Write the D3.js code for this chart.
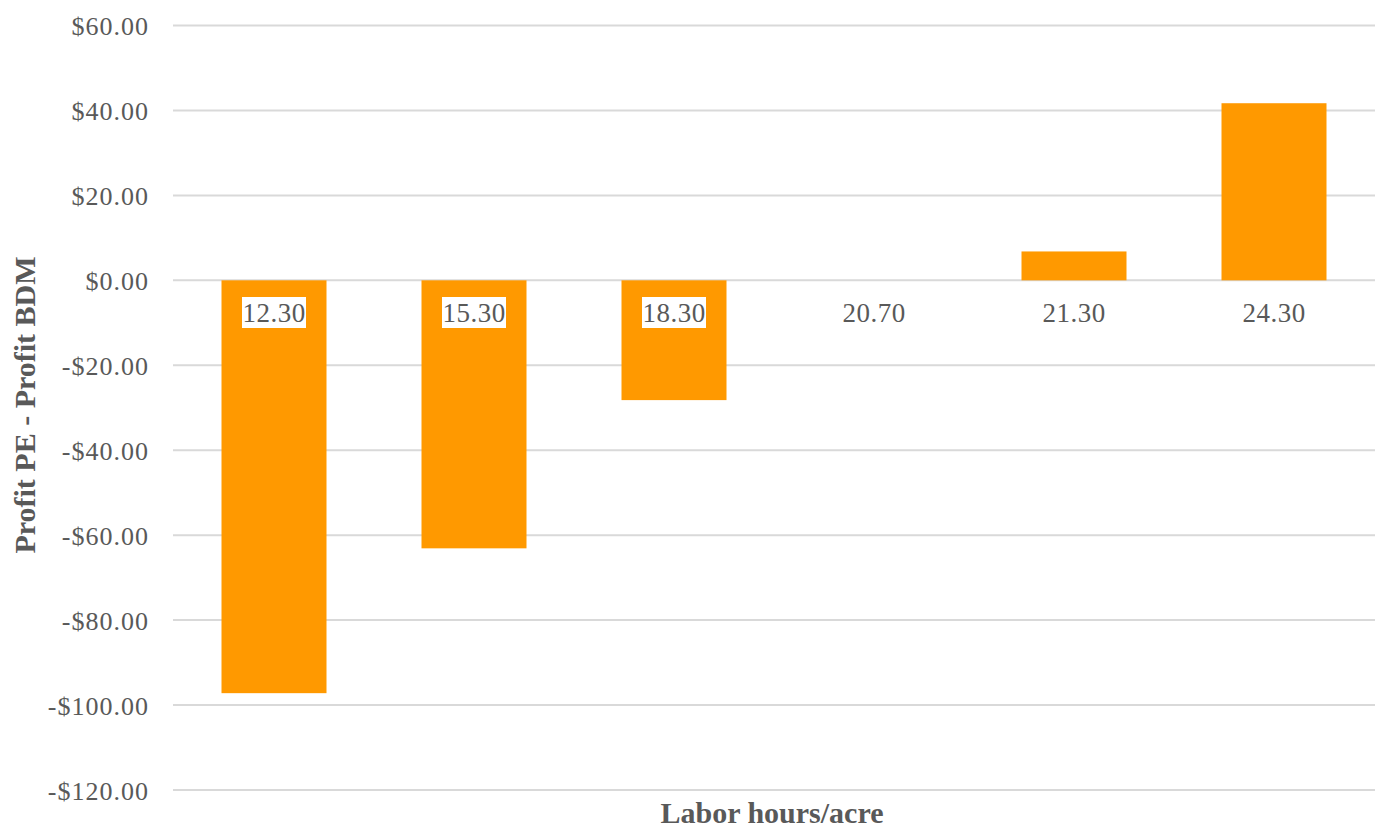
<!DOCTYPE html>
<html>
<head>
<meta charset="utf-8">
<script src="https://cdn.jsdelivr.net/npm/d3@7"></script>
<style>
  body { margin: 0; background: #fff; }
  text { font-family: "Liberation Serif", "Times New Roman", serif; fill: #595959; }
</style>
</head>
<body>
<script>
const hours = ["12.30", "15.30", "18.30", "20.70", "21.30", "24.30"];
const profitDiff = [-97.2, -63.1, -28.2, 0, 6.8, 41.7];
const yTicks = [60, 40, 20, 0, -20, -40, -60, -80, -100, -120];

const WIDTH = 1380, HEIGHT = 829;
const svg = d3.select("body").append("svg")
  .attr("width", WIDTH).attr("height", HEIGHT);

const x = d3.scaleBand().domain(hours).range([174, 1374]).paddingInner(0.475).paddingOuter(0.2375);
const y = d3.scaleLinear().domain([-120, 60]).range([790, 25.5]);

// gridlines
svg.append("g").selectAll("line")
  .data(yTicks)
  .enter().append("line")
  .attr("x1", 173).attr("x2", 1375)
  .attr("y1", d => y(d)).attr("y2", d => y(d))
  .attr("stroke", "#d9d9d9").attr("stroke-width", 2);

// y axis labels
const fmt = d => (d < 0 ? "-$" : "$") + Math.abs(d).toFixed(2);
const yAxis = d3.axisLeft(y).tickValues(yTicks).tickFormat(fmt).tickSize(0).tickPadding(0);
const gy = svg.append("g").attr("transform", "translate(149,0)").call(yAxis);
gy.select(".domain").remove();
gy.selectAll("text")
  .attr("font-size", 26)
  .attr("letter-spacing", 1)
  .attr("fill", "#595959")
  .attr("font-family", "Liberation Serif, serif")
  .attr("dy", "0.35em");

// bars
svg.append("g").selectAll("rect")
  .data(profitDiff)
  .enter().append("rect")
  .attr("x", (d, i) => x(hours[i]))
  .attr("y", d => y(Math.max(0, d)))
  .attr("width", x.bandwidth())
  .attr("height", d => Math.abs(y(d) - y(0)))
  .attr("fill", "#ff9900");

// category labels (with white box where they sit on a bar)
const labels = svg.append("g").selectAll("g")
  .data(hours)
  .enter().append("g")
  .attr("transform", d => `translate(${x(d) + x.bandwidth() / 2},313)`);

labels.filter((d, i) => profitDiff[i] < -5)
  .append("rect")
  .attr("x", -32).attr("y", -16)
  .attr("width", 64).attr("height", 31)
  .attr("fill", "#fff");

labels.append("text")
  .attr("text-anchor", "middle")
  .attr("dy", "0.35em")
  .attr("font-size", 27)
  .attr("letter-spacing", 0.5)
  .text(d => d);

// axis titles
svg.append("text")
  .attr("x", 772).attr("y", 823)
  .attr("text-anchor", "middle")
  .attr("font-size", 30).attr("font-weight", "bold")
  .text("Labor hours/acre");

svg.append("text")
  .attr("transform", "translate(35,405) rotate(-90)")
  .attr("text-anchor", "middle")
  .attr("font-size", 30).attr("font-weight", "bold")
  .text("Profit PE - Profit BDM");
</script>
</body>
</html>
